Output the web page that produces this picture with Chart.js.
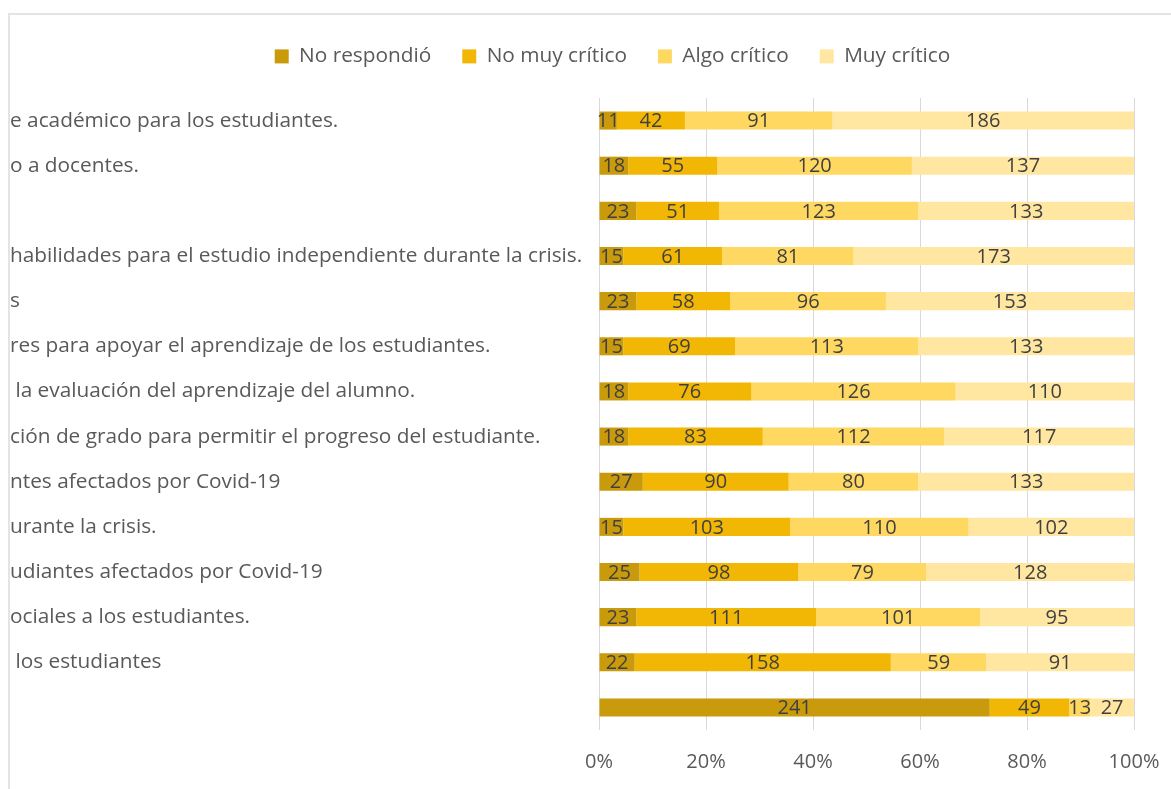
<!DOCTYPE html>
<html><head><meta charset="utf-8">
<script src="https://cdn.jsdelivr.net/npm/chart.js@4"></script>
<style>
html,body{margin:0;padding:0;background:#fff;width:1171px;height:789px;overflow:hidden;}
#frame{position:absolute;left:8px;top:13px;width:1163px;height:776px;border-left:2px solid #e4e4e4;border-top:2px solid #e4e4e4;overflow:hidden;box-sizing:border-box;}
#wrap{position:absolute;left:0;top:0;width:1161px;height:774px;}
</style></head><body>
<div id="frame"><div id="wrap"><canvas id="c"></canvas></div></div>
<script>
const categories = [
  'e académico para los estudiantes.',
  'o a docentes.',
  '',
  'habilidades para el estudio independiente durante la crisis.',
  's',
  'res para apoyar el aprendizaje de los estudiantes.',
  ' la evaluación del aprendizaje del alumno.',
  'ción de grado para permitir el progreso del estudiante.',
  'ntes afectados por Covid-19',
  'urante la crisis.',
  'udiantes afectados por Covid-19',
  'ociales a los estudiantes.',
  ' los estudiantes',
  ''
];
const seriesNames = ['No respondió', 'No muy crítico', 'Algo crítico', 'Muy crítico'];
const noRespondio  = [11, 18, 23, 15, 23, 15, 18, 18, 27, 15, 25, 23, 22, 241];
const noMuyCritico = [42, 55, 51, 61, 58, 69, 76, 83, 90, 103, 98, 111, 158, 49];
const algoCritico  = [91, 120, 123, 81, 96, 113, 126, 112, 80, 110, 79, 101, 59, 13];
const muyCritico   = [186, 137, 133, 173, 153, 133, 110, 117, 133, 102, 128, 95, 91, 27];
const xTickValues  = [0, 20, 40, 60, 80, 100];
const seriesColors = ['#C99A0C', '#F2B705', '#FFD862', '#FFE7A2'];

const seriesCounts = [noRespondio, noMuyCritico, algoCritico, muyCritico];
const totals = categories.map((_, i) => seriesCounts.reduce((s, arr) => s + arr[i], 0));

const FONT = '"Open Sans", "Noto Sans", sans-serif';
const FS = 20.8;
const FS_TICK = 20;

const layoutTweaks = {
  id: 'layoutTweaks',
  beforeUpdate(chart) {
    const lg = chart.legend;
    if (lg && !lg._wrappedFit) {
      const orig = lg.fit;
      lg.fit = function () { orig.call(this); this.height = 83; };
      lg._wrappedFit = true;
    }
  },
  afterLayout(chart) {
    if (chart.legend) chart.legend.left += 81;
  }
};

const valueLabels = {
  id: 'valueLabels',
  afterDatasetsDraw(chart) {
    const ctx = chart.ctx;
    ctx.save();
    ctx.font = FS_TICK + 'px ' + FONT;
    ctx.fillStyle = '#404040';
    ctx.textAlign = 'center';
    ctx.textBaseline = 'middle';
    chart.data.datasets.forEach((ds, di) => {
      const meta = chart.getDatasetMeta(di);
      meta.data.forEach((bar, i) => {
        const x = (bar.x + bar.base) / 2;
        ctx.fillText(String(ds.counts[i]), x, bar.y + 1);
      });
    });
    ctx.restore();
  }
};

Chart.defaults.font.family = FONT;
Chart.defaults.font.size = FS;
Chart.defaults.color = '#595959';

new Chart(document.getElementById('c'), {
  type: 'bar',
  data: {
    labels: categories,
    datasets: seriesCounts.map((arr, k) => ({
      label: seriesNames[k],
      counts: arr,
      data: arr.map((v, i) => v / totals[i] * 100),
      backgroundColor: seriesColors[k],
      borderWidth: 0,
      barPercentage: 0.4,
      categoryPercentage: 1.0
    }))
  },
  options: {
    indexAxis: 'y',
    responsive: true,
    maintainAspectRatio: false,
    animation: false,
    devicePixelRatio: 1,
    layout: { padding: { left: 0, right: 37, top: 0, bottom: 0 } },
    plugins: {
      legend: {
        position: 'top',
        align: 'center',
        labels: { boxWidth: 14, boxHeight: 14, padding: 31, color: '#595959', font: { size: FS } }
      },
      tooltip: { enabled: false }
    },
    scales: {
      x: {
        stacked: true,
        min: 0, max: 100,
        afterBuildTicks(scale) { scale.ticks = xTickValues.map(v => ({ value: v })); },
        afterFit(scale) { scale.height = 59; scale.paddingLeft = 0; scale.paddingRight = 0; },
        ticks: { callback: v => v + '%', padding: 20, color: '#595959', font: { size: FS_TICK } },
        grid: { color: '#d9d9d9', drawTicks: false, lineWidth: 1 },
        border: { display: false }
      },
      y: {
        stacked: true,
        afterFit(scale) { scale.width = 589; },
        ticks: { autoSkip: false, padding: 16, crossAlign: 'far', color: '#595959', font: { size: FS } },
        grid: { display: false, drawTicks: false },
        border: { display: false }
      }
    }
  },
  plugins: [layoutTweaks, valueLabels]
});
</script>
</body></html>
